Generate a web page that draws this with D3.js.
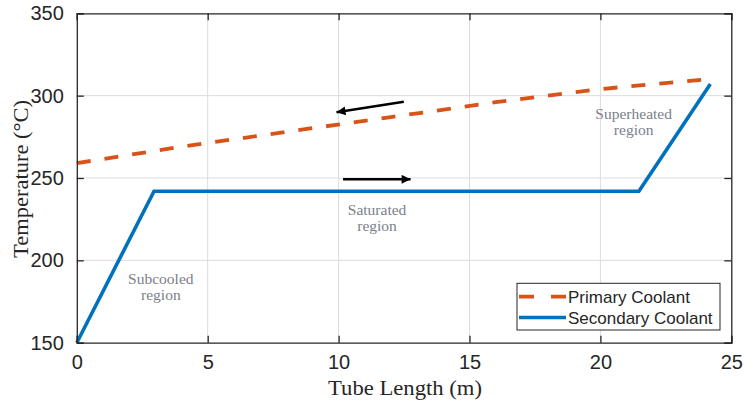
<!DOCTYPE html>
<html>
<head>
<meta charset="utf-8">
<script src="https://cdn.jsdelivr.net/npm/d3@7"></script>
<style>
  body { margin: 0; background: #fff; }
  svg { display: block; }
</style>
</head>
<body>
<div id="chart"></div>
<script>
// tube length (m) vs temperature (°C)
const primaryX = [0, 4, 8, 12, 16, 20, 24.1];
const primaryT = [259, 269, 278, 287, 296, 304, 310];

const secondaryX = [0, 2.95, 21.47, 24.2];
const secondaryT = [150, 242, 242, 307];

const xTicks = [0, 5, 10, 15, 20, 25];
const yTicks = [150, 200, 250, 300, 350];

const seriesNames = ["Primary Coolant", "Secondary Coolant"];

// flow direction arrows [x1, T1, x2, T2]
const arrows = [
    [12.49, 296.3, 9.92, 289.9],
    [10.17, 249.2, 12.75, 249.2]
];

const regionLabels = [
    { lines: ["Subcooled", "region"], x: 3.21, t: 185.6 },
    { lines: ["Saturated", "region"], x: 11.47, t: 227.5 },
    { lines: ["Superheated", "region"], x: 21.27, t: 285.8 }
];

const width = 744, height = 401;
const margin = { left: 76.8, right: 744 - 731.3, top: 13.3, bottom: 401 - 342.7 };

const svg = d3.select("#chart").append("svg")
    .attr("width", width)
    .attr("height", height);

const x = d3.scaleLinear().domain([0, 25]).range([margin.left, width - margin.right]);
const y = d3.scaleLinear().domain([150, 350]).range([height - margin.bottom, margin.top]);

const axisColor = "#262626";

// grid
svg.append("g").selectAll("line")
    .data(xTicks.slice(1, -1))
    .enter().append("line")
    .attr("x1", d => x(d)).attr("x2", d => x(d))
    .attr("y1", y(150)).attr("y2", y(350))
    .attr("stroke", "#dcdcdc").attr("stroke-width", 1);
svg.append("g").selectAll("line")
    .data(yTicks.slice(1, -1))
    .enter().append("line")
    .attr("x1", x(0)).attr("x2", x(25))
    .attr("y1", d => y(d)).attr("y2", d => y(d))
    .attr("stroke", "#dcdcdc").attr("stroke-width", 1);

// lines
const line = d3.line().x(d => x(d[0])).y(d => y(d[1]));

svg.append("path")
    .datum(primaryX.map((v, i) => [v, primaryT[i]]))
    .attr("d", line)
    .attr("fill", "none")
    .attr("stroke", "#D95319")
    .attr("stroke-width", 3.8)
    .attr("stroke-dasharray", "14,14");

svg.append("path")
    .datum(secondaryX.map((v, i) => [v, secondaryT[i]]))
    .attr("d", line)
    .attr("fill", "none")
    .attr("stroke", "#0072BD")
    .attr("stroke-width", 3.6)
    .attr("stroke-linejoin", "miter");

// arrows
svg.append("defs").append("marker")
    .attr("id", "head")
    .attr("viewBox", "0 0 10 10")
    .attr("refX", 10).attr("refY", 5)
    .attr("markerUnits", "userSpaceOnUse")
    .attr("markerWidth", 11).attr("markerHeight", 9)
    .attr("orient", "auto")
    .append("path")
    .attr("d", "M0,0 L10,5 L0,10 Z")
    .attr("fill", "#000");

svg.append("g").selectAll("line")
    .data(arrows)
    .enter().append("line")
    .attr("x1", d => x(d[0])).attr("y1", d => y(d[1]))
    .attr("x2", d => x(d[2])).attr("y2", d => y(d[3]))
    .attr("stroke", "#000")
    .attr("stroke-width", 2.4)
    .attr("marker-end", "url(#head)");

// region labels
const lbl = svg.append("g").selectAll("text")
    .data(regionLabels)
    .enter().append("text")
    .attr("text-anchor", "middle")
    .attr("font-family", "'Liberation Serif', 'Times New Roman', serif")
    .attr("font-size", "15.5px")
    .attr("fill", "#7b808a");
lbl.selectAll("tspan")
    .data(d => d.lines.map((s, i) => ({ s, i, d })))
    .enter().append("tspan")
    .attr("x", d => x(d.d.x))
    .attr("y", d => y(d.d.t) + d.i * 16)
    .text(d => d.s);

// axes box
const xAxis = d3.axisBottom(x).tickValues(xTicks).tickSize(-7).tickPadding(14).tickFormat(d3.format("d"));
const yAxis = d3.axisLeft(y).tickValues(yTicks).tickSize(-7).tickPadding(13).tickFormat(d3.format("d"));

const gx = svg.append("g").attr("transform", `translate(0,${y(150)})`).call(xAxis);
const gy = svg.append("g").attr("transform", `translate(${x(0)},0)`).call(yAxis);
const gxt = svg.append("g").attr("transform", `translate(0,${y(350)})`)
    .call(d3.axisTop(x).tickValues(xTicks).tickSize(-7).tickFormat(""));
const gyr = svg.append("g").attr("transform", `translate(${x(25)},0)`)
    .call(d3.axisRight(y).tickValues(yTicks).tickSize(-7).tickFormat(""));

[gx, gy, gxt, gyr].forEach(g => {
    g.select(".domain").attr("stroke", axisColor).attr("stroke-width", 1.3);
    g.selectAll(".tick line").attr("stroke", axisColor).attr("stroke-width", 1.3);
    g.selectAll("text")
        .attr("fill", axisColor)
        .attr("font-family", "'Liberation Sans', Arial, sans-serif")
        .attr("font-size", "20px");
});
gx.selectAll(".tick text").attr("dy", "0.6em");

// axis labels
svg.append("text")
    .attr("x", (x(0) + x(25)) / 2 + 1)
    .attr("y", 395)
    .attr("text-anchor", "middle")
    .attr("font-family", "'Liberation Serif', 'Times New Roman', serif")
    .attr("font-size", "20px")
    .attr("fill", axisColor)
    .attr("textLength", 154)
    .attr("lengthAdjust", "spacingAndGlyphs")
    .text("Tube Length (m)");

svg.append("text")
    .attr("transform", "translate(28,179) rotate(-90)")
    .attr("text-anchor", "middle")
    .attr("font-family", "'Liberation Serif', 'Times New Roman', serif")
    .attr("font-size", "20px")
    .attr("fill", axisColor)
    .attr("textLength", 158)
    .attr("lengthAdjust", "spacingAndGlyphs")
    .text("Temperature (°C)");

// legend
const legend = svg.append("g");
legend.append("rect")
    .attr("x", 517).attr("y", 283.3)
    .attr("width", 203).attr("height", 46.7)
    .attr("fill", "#fff")
    .attr("stroke", axisColor).attr("stroke-width", 1);

const legendStyles = [
    { color: "#D95319", dash: "15,17", w: 3.8 },
    { color: "#0072BD", dash: null, w: 3.6 }
];
seriesNames.forEach((name, i) => {
    const cy = 296.7 + i * 20.8;
    legend.append("line")
        .attr("x1", 519).attr("x2", 566)
        .attr("y1", cy).attr("y2", cy)
        .attr("stroke", legendStyles[i].color)
        .attr("stroke-width", legendStyles[i].w)
        .attr("stroke-dasharray", legendStyles[i].dash);
    legend.append("text")
        .attr("x", 568).attr("y", cy + 6)
        .attr("font-family", "'Liberation Sans', Arial, sans-serif")
        .attr("font-size", "17px")
        .attr("fill", axisColor)
        .text(name);
});
</script>
</body>
</html>
